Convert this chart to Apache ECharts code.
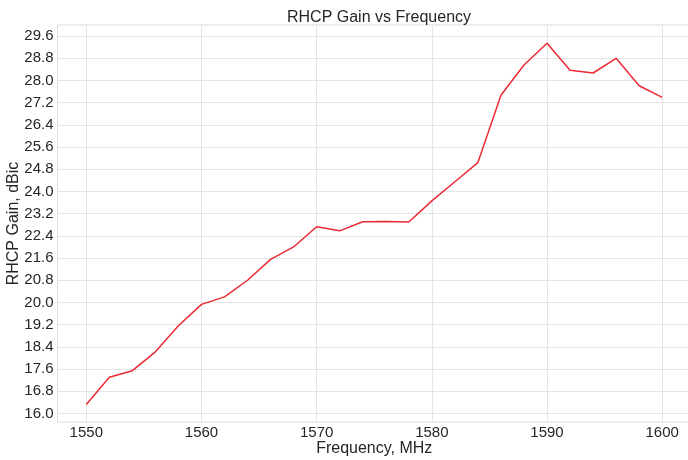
<!DOCTYPE html>
<html>
<head>
<meta charset="utf-8">
<script src="https://cdn.jsdelivr.net/npm/echarts@6/dist/echarts.min.js"></script>
<style>
  html, body { margin: 0; padding: 0; background: #fff; }
  #chart { width: 688px; height: 460px; }
</style>
</head>
<body>
<div id="chart"></div>
<script>
// frequency points, MHz
var freqs = [1550, 1552, 1554, 1556, 1558, 1560, 1562, 1564, 1566, 1568,
             1570, 1572, 1574, 1576, 1578, 1580, 1582, 1584, 1586, 1588,
             1590, 1592, 1594, 1596, 1598, 1600];
// RHCP gain, dBic
var gains = [16.32, 17.30, 17.54, 18.22, 19.16, 19.93, 20.20, 20.80, 21.55, 22.00,
             22.73, 22.58, 22.91, 22.92, 22.90, 23.66, 24.35, 25.04, 27.47, 28.56,
             29.34, 28.37, 28.27, 28.80, 27.81, 27.39];
var xTicks = [1550, 1560, 1570, 1580, 1590, 1600];
var yTicks = [16.0, 16.8, 17.6, 18.4, 19.2, 20.0, 20.8, 21.6, 22.4, 23.2, 24.0,
              24.8, 25.6, 26.4, 27.2, 28.0, 28.8, 29.6];

var seriesData = [];
for (var i = 0; i < freqs.length; i++) {
    seriesData.push([freqs[i], gains[i]]);
}

var myChart = echarts.init(document.getElementById('chart'));
var font = 'Liberation Sans, Arial, sans-serif';
var option = {
    animation: false,
    title: {
        text: 'RHCP Gain vs Frequency',
        left: 374,
        textAlign: 'center',
        top: 5,
        textStyle: { fontFamily: font, fontSize: 16, fontWeight: 'normal', color: '#262626' }
    },
    grid: {
        left: 57.5, top: 25, width: 633.5, height: 397,
        outerBoundsMode: 'none',
        containLabel: false,
        show: true, borderColor: '#dcdcdc', borderWidth: 1
    },
    xAxis: {
        type: 'value',
        min: 1547.5,
        max: 1602.5,
        name: 'Frequency, MHz',
        nameLocation: 'middle',
        nameGap: 19,
        nameMoveOverlap: false,
        nameTextStyle: { fontFamily: font, fontSize: 16, color: '#262626' },
        axisLine: { show: false },
        axisTick: { show: false, customValues: xTicks },
        axisLabel: {
            customValues: xTicks,
            margin: 3,
            fontFamily: font, fontSize: 15, color: '#262626',
            formatter: function (v) { return String(v); }
        },
        splitLine: { show: true, lineStyle: { color: '#e5e5e5', width: 1 } }
    },
    yAxis: {
        type: 'value',
        min: 15.69,
        max: 30.0,
        name: 'RHCP Gain, dBic',
        nameLocation: 'middle',
        nameGap: 36,
        nameMoveOverlap: false,
        nameTextStyle: { fontFamily: font, fontSize: 16, color: '#262626' },
        axisLine: { show: false },
        axisTick: { show: false, customValues: yTicks },
        axisLabel: {
            customValues: yTicks,
            margin: 4,
            fontFamily: font, fontSize: 15, color: '#262626',
            formatter: function (v) { return v.toFixed(1); }
        },
        splitLine: { show: true, lineStyle: { color: '#e5e5e5', width: 1 } }
    },
    series: [{
        type: 'line',
        data: seriesData,
        showSymbol: false,
        lineStyle: { color: '#ec2a34', width: 1.5 },
        itemStyle: { color: '#ec2a34' }
    }]
};
myChart.setOption(option);
</script>
</body>
</html>
